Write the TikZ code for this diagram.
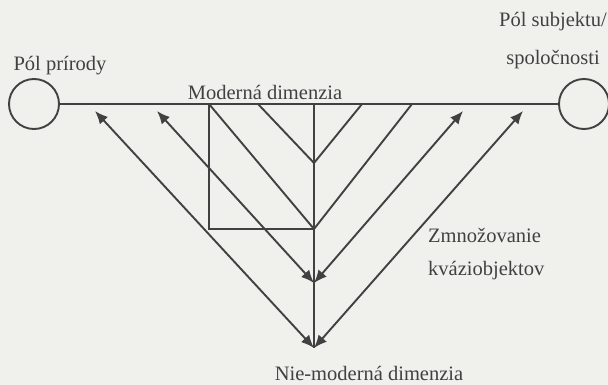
\documentclass[tikz,border=0pt]{standalone}
\usepackage{fontspec}
\setmainfont{Liberation Serif}
\usetikzlibrary{arrows.meta}
\definecolor{paper}{RGB}{240,240,237}
\definecolor{ink}{RGB}{65,65,65}
\begin{document}
\begin{tikzpicture}[x=1pt,y=-1pt,
        roundnode/.style={circle, draw=ink, line width=1.9pt, minimum size=50pt, inner sep=0pt},
        txt/.style={text=ink, font=\fontsize{20.5}{33}\selectfont, inner sep=0pt},
        ln/.style={draw=ink, line width=1.9pt},
        arr/.style={ln, {Latex[length=13pt,width=11pt]}-{Latex[length=13pt,width=11pt]}},
        ]
            \fill[paper] (0,0) rectangle (608,385);
            \useasboundingbox (0,0) rectangle (608,385);

            \node[roundnode] at(34,104) (pp) {};
            \node[roundnode] at(584,104) (ps) {};

            \coordinate (a1) at (209,104);
            \coordinate (b1) at (258,104);
            \coordinate (c) at (314,104);
            \coordinate (b2) at (362,104);
            \coordinate (a2) at (412,104);
            \coordinate (v1) at (314,163);
            \coordinate (v2) at (314,229);
            \coordinate (r) at (209,229);
            \coordinate (m) at (314,283);
            \coordinate (n) at (314,348);
            \coordinate (t1) at (95,111);
            \coordinate (t2) at (157,111);
            \coordinate (t3) at (463,111);
            \coordinate (t4) at (523,111);

            \draw[ln] (pp) -- (ps);
            \draw[ln] (c) -- (n);
            \draw[ln] (b1) -- (v1);
            \draw[ln] (b2) -- (v1);
            \draw[ln] (a1) -- (v2);
            \draw[ln] (a2) -- (v2);
            \draw[ln] (a1) -- (r) -- (v2);
            \draw[arr] (t1) -- (n);
            \draw[arr] (t4) -- (n);
            \draw[arr] (t2) -- (m);
            \draw[arr] (t3) -- (m);

            \node[txt] at(60,66) (lp) {Pól prírody};
            \node[txt, anchor=west] at(499,22) (ls1) {Pól subjektu/};
            \node[txt] at(553,60) (ls2) {spoločnosti};
            \node[txt] at(265,92) (lm) {Moderná dimenzia};
            \node[txt, anchor=north west, align=left] at(428,228) (lz) {Zmnožovanie\\kváziobjektov};
            \node[txt] at(369,373) (ln) {Nie-moderná dimenzia};

            \end{tikzpicture}
\end{document}
